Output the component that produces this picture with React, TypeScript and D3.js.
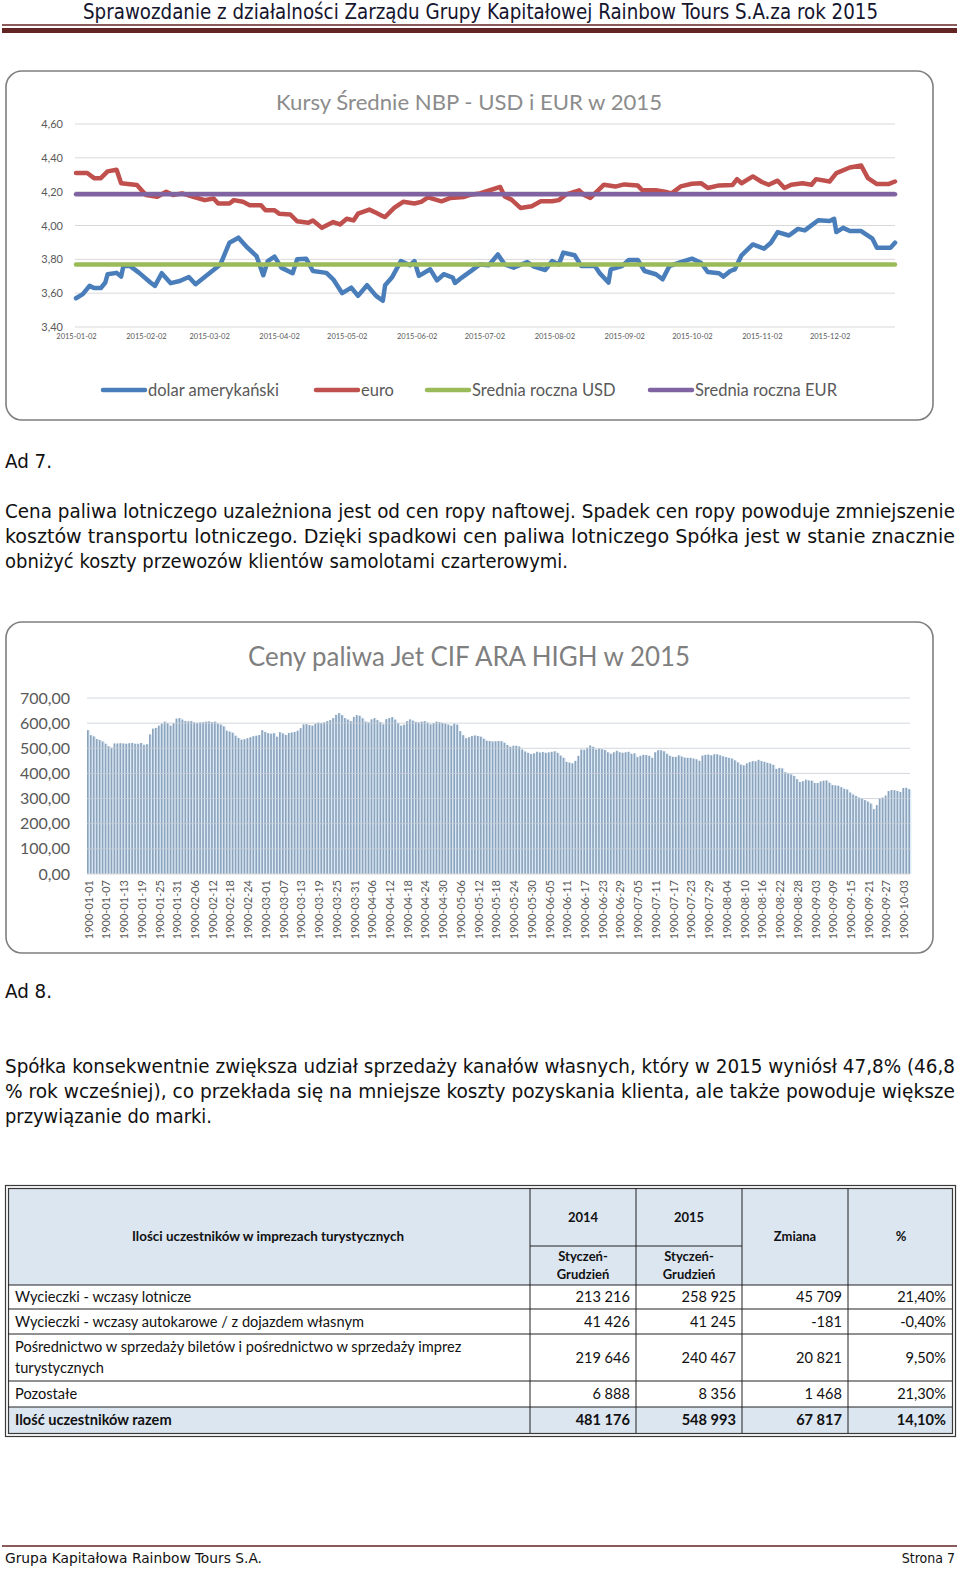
import React, { useEffect, useRef } from 'react';
import * as d3 from 'd3';

const WIDTH = 960;
const HEIGHT = 1569;

const CHART_FONT = "Lato, 'Open Sans', sans-serif";
const TEXT_FONT = "'DejaVu Sans Condensed', 'DejaVu Sans', sans-serif";
const MAROON = '#632523';

// ---- NBP rates chart ----
const eurDates = [
  '2015-01-02', '2015-01-07', '2015-01-10', '2015-01-13', '2015-01-16', '2015-01-20', '2015-01-22', '2015-01-29',
  '2015-02-02', '2015-02-07', '2015-02-11', '2015-02-14', '2015-02-18', '2015-02-23', '2015-02-28',
  '2015-03-04', '2015-03-06', '2015-03-11', '2015-03-13', '2015-03-17', '2015-03-20', '2015-03-25', '2015-03-27', '2015-03-31',
  '2015-04-02', '2015-04-07', '2015-04-10', '2015-04-15', '2015-04-17', '2015-04-21', '2015-04-26', '2015-04-29',
  '2015-05-02', '2015-05-05', '2015-05-07', '2015-05-12', '2015-05-15', '2015-05-18', '2015-05-19', '2015-05-23', '2015-05-27',
  '2015-06-01', '2015-06-04', '2015-06-07', '2015-06-13', '2015-06-17', '2015-06-23', '2015-06-26', '2015-06-30',
  '2015-07-02', '2015-07-09', '2015-07-11', '2015-07-14', '2015-07-18', '2015-07-23', '2015-07-27',
  '2015-08-01', '2015-08-04', '2015-08-07', '2015-08-13', '2015-08-15', '2015-08-18', '2015-08-24', '2015-08-29',
  '2015-09-02', '2015-09-08', '2015-09-10', '2015-09-16', '2015-09-20', '2015-09-23', '2015-09-27',
  '2015-10-02', '2015-10-06', '2015-10-09', '2015-10-14', '2015-10-20', '2015-10-22', '2015-10-24', '2015-10-29',
  '2015-11-02', '2015-11-05', '2015-11-09', '2015-11-12', '2015-11-15', '2015-11-20', '2015-11-24', '2015-11-26',
  '2015-12-02', '2015-12-05', '2015-12-11', '2015-12-16', '2015-12-19', '2015-12-23', '2015-12-28', '2015-12-31',
];
const eurValues = [
  4.31, 4.31, 4.28, 4.28, 4.32, 4.33, 4.25, 4.24,
  4.18, 4.17, 4.2, 4.18, 4.19, 4.17, 4.15,
  4.16, 4.13, 4.13, 4.15, 4.14, 4.12, 4.12, 4.09, 4.09,
  4.07, 4.065, 4.025, 4.016, 4.03, 3.986, 4.02, 4.006,
  4.04, 4.03, 4.07, 4.094, 4.075, 4.055, 4.05, 4.104, 4.14,
  4.13, 4.14, 4.166, 4.143, 4.163, 4.169, 4.182, 4.19,
  4.198, 4.228, 4.172, 4.153, 4.104, 4.114, 4.143,
  4.143, 4.15, 4.182, 4.208, 4.182, 4.163, 4.241, 4.23,
  4.243, 4.236, 4.208, 4.208, 4.2, 4.19, 4.231,
  4.247, 4.25, 4.222, 4.237, 4.24, 4.274, 4.25, 4.29,
  4.257, 4.241, 4.265, 4.222, 4.241, 4.25, 4.241, 4.274,
  4.26, 4.31, 4.343, 4.355, 4.28, 4.245, 4.245, 4.26,
];

const usdDates = [
  '2015-01-02', '2015-01-05', '2015-01-08', '2015-01-10', '2015-01-13', '2015-01-15', '2015-01-16', '2015-01-20', '2015-01-22', '2015-01-23', '2015-01-26', '2015-01-30',
  '2015-02-04', '2015-02-06', '2015-02-09', '2015-02-13', '2015-02-17', '2015-02-21', '2015-02-24',
  '2015-03-01', '2015-03-07', '2015-03-11', '2015-03-15', '2015-03-19', '2015-03-23', '2015-03-26', '2015-03-28', '2015-03-31',
  '2015-04-03', '2015-04-08', '2015-04-10', '2015-04-14', '2015-04-17', '2015-04-23', '2015-04-26', '2015-04-30',
  '2015-05-04', '2015-05-07', '2015-05-11', '2015-05-15', '2015-05-18', '2015-05-19', '2015-05-22', '2015-05-26', '2015-05-30',
  '2015-06-01', '2015-06-03', '2015-06-08', '2015-06-11', '2015-06-14', '2015-06-18', '2015-06-19', '2015-06-22', '2015-06-26', '2015-06-30',
  '2015-07-04', '2015-07-08', '2015-07-11', '2015-07-15', '2015-07-21', '2015-07-24', '2015-07-29',
  '2015-08-01', '2015-08-04', '2015-08-06', '2015-08-11', '2015-08-14', '2015-08-20', '2015-08-22', '2015-08-26', '2015-08-27',
  '2015-09-01', '2015-09-04', '2015-09-08', '2015-09-11', '2015-09-16', '2015-09-19', '2015-09-22', '2015-09-27',
  '2015-10-02', '2015-10-06', '2015-10-09', '2015-10-14', '2015-10-16', '2015-10-19', '2015-10-21', '2015-10-24', '2015-10-29',
  '2015-11-03', '2015-11-06', '2015-11-09', '2015-11-14', '2015-11-18', '2015-11-21', '2015-11-27',
  '2015-12-02', '2015-12-04', '2015-12-05', '2015-12-08', '2015-12-11', '2015-12-16', '2015-12-21', '2015-12-23', '2015-12-29', '2015-12-31',
];
const usdValues = [
  3.57, 3.594, 3.643, 3.63, 3.63, 3.663, 3.712, 3.72, 3.698, 3.76, 3.76, 3.72,
  3.663, 3.643, 3.718, 3.659, 3.672, 3.696, 3.653,
  3.706, 3.77, 3.898, 3.928, 3.869, 3.819, 3.706, 3.79, 3.816,
  3.751, 3.718, 3.8, 3.804, 3.731, 3.72, 3.682, 3.6,
  3.633, 3.584, 3.647, 3.584, 3.555, 3.647, 3.692, 3.79, 3.765,
  3.79, 3.702, 3.741, 3.676, 3.712, 3.692, 3.66, 3.692, 3.73, 3.77,
  3.765, 3.829, 3.77, 3.751, 3.784, 3.757, 3.737,
  3.79, 3.77, 3.84, 3.824, 3.76, 3.76, 3.72, 3.663, 3.741,
  3.76, 3.796, 3.796, 3.731, 3.712, 3.682, 3.76, 3.784,
  3.804, 3.78, 3.725, 3.718, 3.698, 3.731, 3.741, 3.824, 3.888,
  3.863, 3.898, 3.961, 3.941, 3.98, 3.971, 4.031,
  4.027, 4.04, 3.961, 3.986, 3.967, 3.967, 3.922, 3.869, 3.869, 3.898,
];

const USD_AVG = 3.77;
const EUR_AVG = 4.184;

const rateTicks = [3.4, 3.6, 3.8, 4.0, 4.2, 4.4, 4.6];
const monthTicks = [
  '2015-01-02', '2015-02-02', '2015-03-02', '2015-04-02', '2015-05-02', '2015-06-02',
  '2015-07-02', '2015-08-02', '2015-09-02', '2015-10-02', '2015-11-02', '2015-12-02',
];
const rateSeriesNames = ['dolar amerykański', 'euro', 'Srednia roczna USD', 'Srednia roczna EUR'];
const rateSeriesColors = ['#4a7ebb', '#c0504d', '#9bbb59', '#8064a2'];

// ---- Jet fuel chart ----
const fuelValues = [
  572, 552, 547, 537, 533, 527, 518, 508, 502, 519,
  519, 520, 519, 518, 520, 521, 518, 518, 521, 514,
  516, 555, 578, 581, 590, 598, 606, 600, 590, 600,
  618, 620, 614, 608, 607, 608, 603, 601, 603, 604,
  606, 607, 604, 606, 598, 594, 587, 570, 566, 562,
  550, 541, 534, 536, 540, 544, 548, 550, 553, 572,
  565, 560, 558, 560, 546, 564, 559, 553, 561, 563,
  565, 570, 580, 595, 596, 592, 590, 598, 602, 600,
  603, 608, 612, 620, 633, 640, 632, 620, 614, 608,
  625, 632, 629, 619, 606, 603, 615, 620, 612, 604,
  595, 616, 620, 624, 614, 600, 590, 594, 608, 615,
  610, 605, 603, 606, 608, 602, 595, 600, 606, 604,
  601, 598, 594, 590, 598, 594, 568, 552, 540, 544,
  549, 551, 549, 546, 538, 530, 529, 527, 528, 529,
  528, 522, 513, 506, 510, 510, 507, 495, 487, 482,
  477, 480, 486, 483, 485, 482, 484, 486, 488, 482,
  471, 462, 446, 443, 440, 450, 470, 495, 494, 502,
  511, 506, 495, 499, 496, 493, 484, 478, 484, 490,
  484, 482, 484, 486, 478, 480, 465, 470, 474, 473,
  470, 462, 484, 492, 492, 488, 478, 470, 466, 466,
  472, 467, 463, 462, 462, 459, 456, 450, 471, 474,
  475, 472, 476, 476, 472, 468, 465, 462, 459, 452,
  444, 435, 432, 440, 445, 449, 448, 454, 449, 446,
  442, 439, 434, 418, 422, 420, 405, 400, 396, 390,
  377, 366, 369, 375, 372, 371, 362, 362, 368, 371,
  372, 363, 354, 352, 351, 345, 339, 336, 324, 316,
  310, 304, 300, 294, 288, 280, 258, 274, 300, 304,
  312, 330, 334, 333, 330, 326, 342, 343, 337,
];
const fuelLabels = [
  '1900-01-01', '1900-01-07', '1900-01-13', '1900-01-19', '1900-01-25', '1900-01-31',
  '1900-02-06', '1900-02-12', '1900-02-18', '1900-02-24', '1900-03-01', '1900-03-07',
  '1900-03-13', '1900-03-19', '1900-03-25', '1900-03-31', '1900-04-06', '1900-04-12',
  '1900-04-18', '1900-04-24', '1900-04-30', '1900-05-06', '1900-05-12', '1900-05-18',
  '1900-05-24', '1900-05-30', '1900-06-05', '1900-06-11', '1900-06-17', '1900-06-23',
  '1900-06-29', '1900-07-05', '1900-07-11', '1900-07-17', '1900-07-23', '1900-07-29',
  '1900-08-04', '1900-08-10', '1900-08-16', '1900-08-22', '1900-08-28', '1900-09-03',
  '1900-09-09', '1900-09-15', '1900-09-21', '1900-09-27', '1900-10-03',
];
const LABEL_EVERY = 6;
const fuelTicks = [0, 100, 200, 300, 400, 500, 600, 700];

// ---- table ----
const tableRowNames = [
  ['Wycieczki - wczasy lotnicze'],
  ['Wycieczki - wczasy autokarowe / z dojazdem własnym'],
  ['Pośrednictwo w sprzedaży biletów i pośrednictwo w sprzedaży imprez', 'turystycznych'],
  ['Pozostałe'],
  ['Ilość uczestników  razem'],
];
const col2014 = ['213 216', '41 426', '219 646', '6 888', '481 176'];
const col2015 = ['258 925', '41 245', '240 467', '8 356', '548 993'];
const colChange = ['45 709', '-181', '20 821', '1 468', '67 817'];
const colPercent = ['21,40%', '-0,40%', '9,50%', '21,30%', '14,10%'];

const RatesChart = () => {
  const ref = useRef<SVGGElement>(null);

  useEffect(() => {
    if (!ref.current) return;
    const g = d3.select(ref.current);
    g.selectAll('*').remove();

    const parse = d3.timeParse('%Y-%m-%d');
    const x = d3
      .scaleTime()
      .domain([parse('2015-01-02')!, parse('2015-12-31')!])
      .range([76, 895]);
    const y = d3.scaleLinear().domain([3.4, 4.6]).range([327, 124]);

    // gridlines
    g.append('g')
      .selectAll('line')
      .data(rateTicks)
      .join('line')
      .attr('x1', 75)
      .attr('x2', 895)
      .attr('y1', (d) => y(d))
      .attr('y2', (d) => y(d))
      .attr('stroke', '#d9d9d9')
      .attr('stroke-width', 1);

    const yAxis = d3
      .axisLeft(y)
      .tickValues(rateTicks)
      .tickSize(0)
      .tickPadding(12)
      .tickFormat((d) => (+d).toFixed(2).replace('.', ','));
    const ya = g.append('g').attr('transform', 'translate(75,0)').call(yAxis);
    ya.select('.domain').remove();
    ya.selectAll('text')
      .attr('fill', '#595959')
      .style('font-family', CHART_FONT)
      .style('font-size', '11px');

    const xAxis = d3
      .axisBottom(x)
      .tickValues(monthTicks.map((d) => parse(d)!))
      .tickSize(0)
      .tickPadding(7)
      .tickFormat((d) => d3.timeFormat('%Y-%m-%d')(d as Date));
    const xa = g.append('g').attr('transform', 'translate(0,327)').call(xAxis);
    xa.select('.domain').remove();
    xa.selectAll('text')
      .attr('fill', '#595959')
      .style('font-family', CHART_FONT)
      .style('font-size', '7.5px');

    const usdLine = d3
      .line<number>()
      .x((_, i) => x(parse(usdDates[i])!))
      .y((d) => y(d));
    const eurLine = d3
      .line<number>()
      .x((_, i) => x(parse(eurDates[i])!))
      .y((d) => y(d));

    g.append('path')
      .attr('d', usdLine(usdValues)!)
      .attr('fill', 'none')
      .attr('stroke', rateSeriesColors[0])
      .attr('stroke-width', 4.5)
      .attr('stroke-linejoin', 'round')
      .attr('stroke-linecap', 'round');
    g.append('path')
      .attr('d', eurLine(eurValues)!)
      .attr('fill', 'none')
      .attr('stroke', rateSeriesColors[1])
      .attr('stroke-width', 4.5)
      .attr('stroke-linejoin', 'round')
      .attr('stroke-linecap', 'round');

    [USD_AVG, EUR_AVG].forEach((avg, i) => {
      g.append('line')
        .attr('x1', x(parse('2015-01-02')!))
        .attr('x2', x(parse('2015-12-31')!))
        .attr('y1', y(avg))
        .attr('y2', y(avg))
        .attr('stroke', rateSeriesColors[2 + i])
        .attr('stroke-width', 4.5)
        .attr('stroke-linecap', 'round');
    });

    // legend
    const legendX = [103, 316, 427, 650];
    const legend = g
      .append('g')
      .selectAll('g')
      .data(rateSeriesNames)
      .join('g')
      .attr('transform', (_, i) => `translate(${legendX[i]},390)`);
    legend
      .append('line')
      .attr('x1', 0)
      .attr('x2', 42)
      .attr('stroke', (_, i) => rateSeriesColors[i])
      .attr('stroke-width', 4.5)
      .attr('stroke-linecap', 'round');
    legend
      .append('text')
      .attr('x', 45)
      .attr('y', 6)
      .attr('fill', '#595959')
      .style('font-family', CHART_FONT)
      .style('font-size', '16.5px')
      .text((d) => d);
  }, []);

  return (
    <g>
      <rect x={6} y={71} width={927} height={349} rx={16} fill="#fff" stroke="#7f7f7f" strokeWidth={1.6} />
      <text x={469} y={110} textAnchor="middle" fill="#8c8c8c" fontFamily={CHART_FONT} fontSize={22}
        textLength={386} lengthAdjust="spacingAndGlyphs">
        Kursy Średnie NBP - USD i EUR  w 2015
      </text>
      <g ref={ref} />
    </g>
  );
};

const FuelChart = () => {
  const ref = useRef<SVGGElement>(null);

  useEffect(() => {
    if (!ref.current) return;
    const g = d3.select(ref.current);
    g.selectAll('*').remove();

    const x = d3
      .scaleBand<number>()
      .domain(d3.range(fuelValues.length))
      .range([87, 910])
      .paddingInner(0.45);
    const y = d3.scaleLinear().domain([0, 700]).range([874, 698]);

    // light fill between the bars, then the bars themselves
    g.append('g')
      .selectAll('rect')
      .data(fuelValues)
      .join('rect')
      .attr('x', (_, i) => x(i)!)
      .attr('width', x.step())
      .attr('y', (d) => y(d))
      .attr('height', (d) => y(0) - y(d))
      .attr('fill', '#dce9f6');
    g.append('g')
      .selectAll('rect')
      .data(fuelValues)
      .join('rect')
      .attr('x', (_, i) => x(i)!)
      .attr('width', x.bandwidth())
      .attr('y', (d) => y(d))
      .attr('height', (d) => y(0) - y(d))
      .attr('fill', '#8ba3bb');

    g.append('g')
      .selectAll('line')
      .data(fuelTicks.slice(1))
      .join('line')
      .attr('x1', 87)
      .attr('x2', 910)
      .attr('y1', (d) => y(d))
      .attr('y2', (d) => y(d))
      .attr('stroke', '#c8ced6')
      .attr('stroke-opacity', 0.8)
      .attr('stroke-width', 1);

    g.append('line')
      .attr('x1', 87)
      .attr('x2', 910)
      .attr('y1', y(0))
      .attr('y2', y(0))
      .attr('stroke', '#d9d9d9');

    const yAxis = d3
      .axisLeft(y)
      .tickValues(fuelTicks)
      .tickSize(0)
      .tickPadding(17)
      .tickFormat((d) => (+d).toFixed(2).replace('.', ','));
    const ya = g.append('g').attr('transform', 'translate(87,0)').call(yAxis);
    ya.select('.domain').remove();
    ya.selectAll('text')
      .attr('fill', '#595959')
      .style('font-family', CHART_FONT)
      .style('font-size', '16px');

    g.append('g')
      .selectAll('text')
      .data(fuelLabels)
      .join('text')
      .attr('transform', (_, k) => {
        const cx = x(k * LABEL_EVERY)! + x.bandwidth() / 2;
        return `translate(${cx + 1},880) rotate(-90)`;
      })
      .attr('text-anchor', 'end')
      .attr('dy', '0.35em')
      .attr('fill', '#595959')
      .style('font-family', CHART_FONT)
      .style('font-size', '11px')
      .text((d) => d);
  }, []);

  return (
    <g>
      <rect x={6} y={622} width={927} height={331} rx={16} fill="#fff" stroke="#7f7f7f" strokeWidth={1.6} />
      <text x={469} y={666} textAnchor="middle" fill="#7f7f7f" fontFamily={CHART_FONT} fontSize={26}
        textLength={442} lengthAdjust="spacingAndGlyphs">
        Ceny paliwa Jet CIF ARA  HIGH w 2015
      </text>
      <g ref={ref} />
    </g>
  );
};

const ParticipantsTable = () => {
  const colX = [8, 530, 636, 742, 848, 952];
  const rowY = [1285, 1309, 1334, 1381, 1407, 1433];
  const numCols = [col2014, col2015, colChange, colPercent];
  const font = { fontFamily: CHART_FONT };
  return (
    <g style={font}>
      <rect x={8} y={1188} width={944} height={97} fill="#dce6f1" />
      <rect x={8} y={1407} width={944} height={26} fill="#dce6f1" />
      <rect x={5.5} y={1185.5} width={950} height={251} fill="none" stroke="#3a3a3a" strokeWidth={1.2} />
      <rect x={8.5} y={1188.5} width={944} height={245} fill="none" stroke="#3a3a3a" strokeWidth={1.2} />
      {colX.slice(1, 5).map((cx) => (
        <line key={cx} x1={cx} x2={cx} y1={1188} y2={1433} stroke="#222" strokeWidth={1} />
      ))}
      <line x1={530} x2={742} y1={1246} y2={1246} stroke="#222" strokeWidth={1} />
      {rowY.slice(0, 5).map((ry) => (
        <line key={ry} x1={8} x2={952} y1={ry} y2={ry} stroke="#222" strokeWidth={1} />
      ))}

      <text x={268} y={1241} textAnchor="middle" fontSize={13} fontWeight="bold" fill="#111"
        textLength={272} lengthAdjust="spacingAndGlyphs">
        Ilości uczestników w imprezach turystycznych
      </text>
      {['2014', '2015'].map((yr, i) => (
        <g key={yr}>
          <text x={(colX[1 + i] + colX[2 + i]) / 2} y={1222} textAnchor="middle" fontSize={13} fontWeight="bold" fill="#111">{yr}</text>
          <text x={(colX[1 + i] + colX[2 + i]) / 2} y={1261} textAnchor="middle" fontSize={13} fontWeight="bold" fill="#111">Styczeń-</text>
          <text x={(colX[1 + i] + colX[2 + i]) / 2} y={1279} textAnchor="middle" fontSize={13} fontWeight="bold" fill="#111">Grudzień</text>
        </g>
      ))}
      <text x={795} y={1241} textAnchor="middle" fontSize={13} fontWeight="bold" fill="#111">Zmiana</text>
      <text x={901} y={1241} textAnchor="middle" fontSize={13} fontWeight="bold" fill="#111">%</text>

      {tableRowNames.map((lines, r) => {
        const top = rowY[r];
        const bottom = rowY[r + 1];
        const mid = (top + bottom) / 2;
        const bold = r === tableRowNames.length - 1;
        return (
          <g key={r} fontWeight={bold ? 'bold' : 'normal'}>
            {lines.map((ln, j) => (
              <text key={j} x={15} y={mid + 5 + (j - (lines.length - 1) / 2) * 21} fontSize={14.6} fill="#111">
                {ln}
              </text>
            ))}
            {numCols.map((col, c) => (
              <text key={c} x={colX[c + 2] - 6} y={mid + 5} textAnchor="end" fontSize={14.6} fill="#111">
                {col[r]}
              </text>
            ))}
          </g>
        );
      })}
    </g>
  );
};

export default function App() {
  return (
    <svg
      width={WIDTH}
      height={HEIGHT}
      style={{ position: 'absolute', left: 0, top: 0, background: '#fff' }}
    >
      <rect x={0} y={0} width={WIDTH} height={HEIGHT} fill="#fff" />

      {/* header */}
      <text x={83} y={19} fontFamily={TEXT_FONT} fontSize={21} fill="#15152e" textLength={795} lengthAdjust="spacingAndGlyphs">
        Sprawozdanie z działalności Zarządu Grupy Kapitałowej Rainbow Tours S.A.za rok 2015
      </text>
      <line x1={2} x2={957} y1={25} y2={25} stroke={MAROON} strokeWidth={1.5} />
      <rect x={2} y={28} width={955} height={5} fill={MAROON} />

      <RatesChart />

      <g fontFamily={TEXT_FONT} fontSize={19} fill="#111">
        <text x={5} y={468} textLength={47} lengthAdjust="spacingAndGlyphs">Ad 7.</text>
        <text x={5} y={518} textLength={950} lengthAdjust="spacingAndGlyphs">
          Cena paliwa lotniczego uzależniona jest od cen ropy naftowej. Spadek cen ropy powoduje zmniejszenie
        </text>
        <text x={5} y={543} textLength={950} lengthAdjust="spacingAndGlyphs">
          kosztów transportu lotniczego. Dzięki spadkowi cen paliwa lotniczego Spółka jest w stanie znacznie
        </text>
        <text x={5} y={568} textLength={563} lengthAdjust="spacingAndGlyphs">
          obniżyć koszty przewozów klientów samolotami czarterowymi.
        </text>
      </g>

      <FuelChart />

      <g fontFamily={TEXT_FONT} fontSize={19} fill="#111">
        <text x={5} y={998} textLength={47} lengthAdjust="spacingAndGlyphs">Ad 8.</text>
        <text x={5} y={1073} textLength={950} lengthAdjust="spacingAndGlyphs">
          Spółka konsekwentnie zwiększa udział sprzedaży kanałów własnych, który w 2015 wyniósł 47,8% (46,8
        </text>
        <text x={5} y={1098} textLength={950} lengthAdjust="spacingAndGlyphs">
          % rok wcześniej), co przekłada się na mniejsze koszty pozyskania klienta, ale także powoduje większe
        </text>
        <text x={5} y={1123} textLength={207} lengthAdjust="spacingAndGlyphs">
          przywiązanie do marki.
        </text>
      </g>

      <ParticipantsTable />

      {/* footer */}
      <line x1={2} x2={957} y1={1546} y2={1546} stroke={MAROON} strokeWidth={1.5} />
      <text x={5} y={1563} fontFamily={TEXT_FONT} fontSize={14} fill="#111" textLength={257} lengthAdjust="spacingAndGlyphs">
        Grupa Kapitałowa Rainbow  Tours S.A.
      </text>
      <text x={955} y={1563} textAnchor="end" fontFamily={TEXT_FONT} fontSize={14} fill="#111">
        Strona 7
      </text>
    </svg>
  );
}
